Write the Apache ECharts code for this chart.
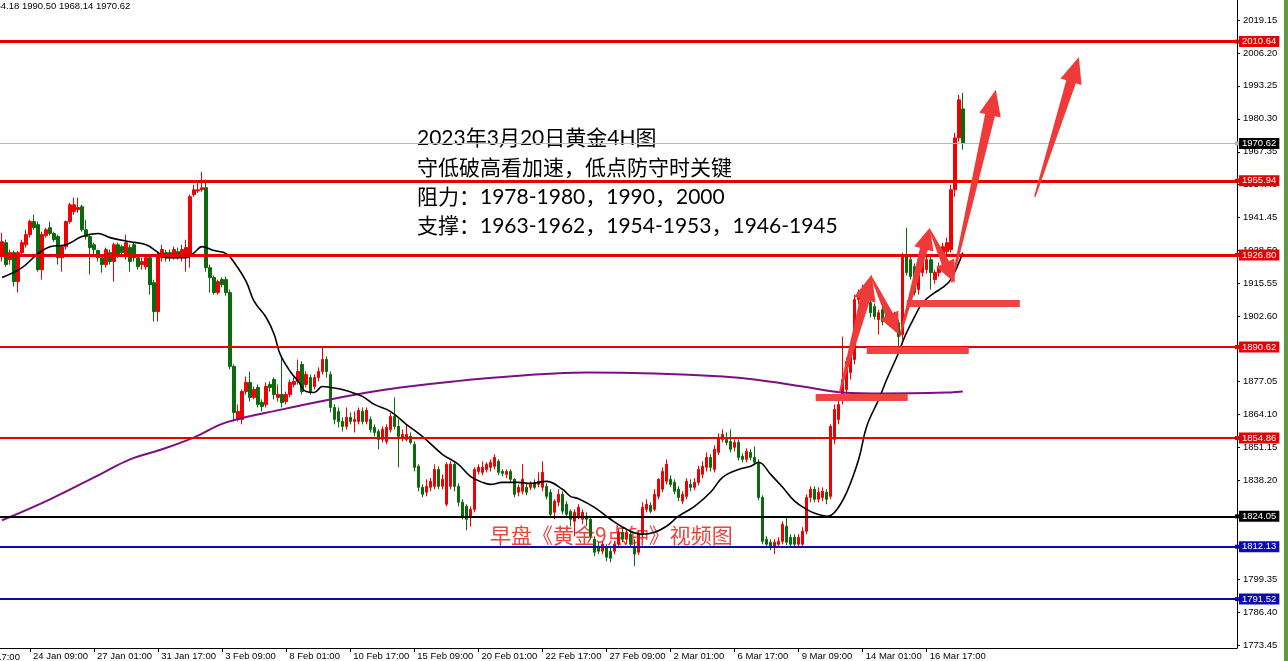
<!DOCTYPE html>
<html><head><meta charset="utf-8">
<script src="https://cdn.jsdelivr.net/npm/echarts@6/dist/echarts.min.js"></script>
<style>html,body{margin:0;padding:0;background:#fff;overflow:hidden}#c{width:1288px;height:661px}</style>
</head><body><div id="c"></div>
<script>
// ---- categories (4H bars, 6 per trading day) ----
const tradingDays = ['23 Jan','24 Jan','25 Jan','26 Jan','27 Jan','30 Jan','31 Jan','1 Feb','2 Feb','3 Feb','6 Feb','7 Feb','8 Feb','9 Feb','10 Feb','13 Feb','14 Feb','15 Feb','16 Feb','17 Feb','20 Feb','21 Feb','22 Feb','23 Feb','24 Feb','27 Feb','28 Feb','1 Mar','2 Mar','3 Mar','6 Mar','7 Mar','8 Mar','9 Mar','10 Mar','13 Mar','14 Mar','15 Mar','16 Mar','17 Mar','20 Mar'];
const sessionHours = ['01:00','05:00','09:00','13:00','17:00','21:00'];
const firstBarOffset = 1;      // first visible bar: 23 Jan 05:00
const emptyBarsRight = 68;     // chart shift on the right

// ---- OHLC: [open, close, low, high] ----
const candles = [
[1926.9,1932.0,1924.2,1935.5],[1931.6,1923.0,1922.2,1932.8],[1924.95,1927.7,1923.0,1928.9],[1927.7,1916.3,1914.35,1928.5],[1916.3,1927.7,1912.0,1928.3],
[1927.7,1931.6,1926.5,1932.8],[1930.8,1934.8,1929.7,1936.7],[1934.8,1939.9,1933.6,1940.65],[1939.9,1937.5,1936.7,1942.6],[1938.7,1921.0,1920.2,1939.9],
[1921.0,1934.8,1917.1,1935.9],[1934.4,1936.7,1933.6,1937.5],[1937.5,1935.2,1934.4,1939.9],[1935.2,1932.8,1932.0,1935.9],[1934.0,1925.7,1923.0,1934.8],
[1925.7,1930.05,1920.2,1930.8],[1930.05,1939.9,1928.9,1940.3],[1939.9,1946.5,1939.1,1947.3],[1943.8,1946.5,1942.6,1949.3],[1944.6,1945.4,1943.4,1949.3],
[1945.75,1936.7,1935.9,1946.5],[1936.7,1934.0,1932.8,1940.65],[1934.0,1929.7,1919.1,1934.8],[1930.8,1928.9,1926.9,1931.6],[1928.5,1925.7,1924.2,1928.9],
[1925.7,1923.0,1919.85,1926.9],[1923.0,1928.9,1921.8,1929.7],[1927.7,1924.2,1923.0,1928.9],[1924.2,1930.8,1916.3,1931.6],[1930.8,1926.9,1925.7,1931.6],
[1930.05,1927.7,1926.1,1930.8],[1926.1,1931.6,1924.95,1934.8],[1929.7,1924.2,1920.2,1930.8],[1930.8,1925.7,1924.2,1931.6],[1925.7,1922.2,1921.0,1926.9],
[1923.0,1924.2,1921.0,1925.7],[1922.2,1925.7,1921.0,1926.9],[1925.7,1915.1,1911.2,1926.9],[1915.9,1904.5,1900.6,1917.1],[1904.5,1926.9,1900.6,1928.1],
[1925.7,1928.9,1924.2,1930.8],[1927.7,1925.7,1924.2,1928.9],[1927.7,1925.7,1924.2,1928.9],[1925.7,1928.9,1924.95,1930.05],[1928.1,1926.1,1924.95,1929.7],
[1926.1,1928.9,1924.2,1930.8],[1926.5,1929.7,1920.2,1932.8],[1926.9,1949.7,1921.8,1950.5],[1950.5,1952.4,1949.7,1954.4],[1952.0,1952.4,1951.2,1955.2],
[1952.4,1953.2,1951.6,1959.5],[1953.2,1921.8,1920.2,1956.35],[1921.8,1917.9,1912.0,1923.0],[1917.9,1912.0,1911.2,1918.7],[1912.0,1916.3,1911.2,1917.1],
[1917.1,1915.1,1914.0,1917.9],[1917.1,1912.0,1910.8,1918.3],[1912.0,1883.0,1881.8,1913.2],[1883.0,1864.9,1861.35,1883.75],[1862.15,1865.3,1861.35,1868.05],
[1862.15,1873.1,1860.2,1873.9],[1873.1,1876.7,1871.95,1879.0],[1876.7,1870.8,1869.2,1881.0],[1870.8,1873.9,1870.0,1875.1],[1874.7,1868.05,1866.85,1875.9],
[1868.8,1867.25,1865.3,1870.0],[1868.05,1875.1,1866.85,1876.7],[1875.9,1874.7,1873.1,1877.1],[1877.85,1871.95,1870.0,1878.6],[1870.8,1871.95,1869.2,1875.9],
[1871.95,1868.8,1866.85,1886.5],[1869.2,1871.95,1868.05,1873.1],[1871.95,1876.7,1870.8,1877.85],[1875.9,1877.1,1874.7,1878.6],[1877.1,1881.0,1875.9,1885.7],
[1883.75,1873.1,1871.95,1885.0],[1875.9,1879.8,1874.7,1881.0],[1878.6,1873.1,1871.95,1879.8],[1875.1,1878.6,1873.9,1879.8],[1878.6,1881.0,1877.1,1882.6],
[1881.0,1885.7,1879.8,1890.4],[1885.7,1881.0,1878.6,1886.9],[1879.8,1866.85,1864.9,1881.0],[1866.85,1862.15,1860.2,1868.05],[1865.3,1861.35,1859.0,1866.85],
[1861.35,1859.4,1857.4,1862.95],[1859.4,1862.95,1858.2,1866.85],[1862.95,1861.35,1860.2,1864.9],[1861.35,1862.15,1857.0,1865.3],[1861.35,1865.7,1860.2,1866.85],
[1865.3,1861.35,1860.2,1866.85],[1861.35,1865.7,1860.2,1866.85],[1862.15,1858.2,1857.0,1863.3],[1859.0,1857.0,1855.5,1860.2],[1857.4,1854.3,1850.4,1858.2],
[1854.3,1858.2,1853.1,1859.4],[1853.5,1859.0,1852.35,1860.2],[1858.2,1863.3,1857.0,1864.9],[1863.3,1859.4,1858.2,1870.8],[1859.4,1855.5,1843.3,1862.15],
[1855.1,1856.25,1853.5,1858.2],[1854.3,1856.25,1853.5,1860.2],[1855.5,1853.1,1852.35,1857.0],[1852.35,1843.3,1841.7,1853.5],[1843.7,1835.45,1833.9,1844.5],
[1835.45,1832.7,1831.5,1836.6],[1833.5,1835.85,1831.9,1838.6],[1835.45,1837.8,1833.9,1839.1],[1835.85,1842.5,1834.7,1844.5],[1842.5,1835.85,1834.7,1843.7],
[1835.85,1838.6,1834.7,1840.55],[1828.8,1844.5,1828.0,1845.3],[1835.85,1844.5,1834.7,1845.65],[1844.5,1835.85,1833.9,1845.3],[1835.85,1829.6,1828.0,1837.0],
[1829.6,1824.1,1822.9,1830.75],[1828.0,1822.9,1818.6,1828.8],[1823.7,1826.8,1820.15,1828.0],[1826.8,1842.5,1825.65,1843.3],[1841.7,1843.3,1840.55,1844.5],
[1841.35,1843.3,1840.2,1845.65],[1842.5,1844.5,1841.35,1845.3],[1843.3,1845.3,1841.7,1846.45],[1843.7,1847.2,1842.5,1848.45],[1845.65,1841.35,1840.2,1846.45],
[1841.7,1840.95,1839.8,1842.5],[1840.55,1841.7,1839.05,1842.5],[1841.7,1838.6,1837.4,1842.5],[1838.6,1832.7,1831.5,1839.05],[1833.5,1835.45,1831.9,1836.6],
[1833.9,1838.6,1832.7,1844.5],[1835.45,1833.5,1832.3,1837.0],[1835.45,1836.6,1834.3,1837.8],[1837.0,1835.45,1834.7,1838.6],[1836.6,1837.8,1835.45,1841.35],
[1835.45,1841.35,1833.9,1845.65],[1835.85,1831.9,1830.75,1837.0],[1833.5,1824.85,1823.7,1834.7],[1825.65,1830.0,1822.9,1830.75],[1829.6,1832.7,1828.0,1834.7],
[1832.7,1826.05,1824.85,1833.9],[1828.8,1824.85,1823.7,1830.0],[1826.05,1822.9,1820.15,1826.8],[1822.1,1825.65,1816.2,1826.8],[1824.1,1827.6,1822.9,1828.8],
[1822.9,1825.65,1820.95,1826.8],[1824.1,1822.9,1820.15,1825.65],[1822.9,1816.2,1815.05,1824.1],[1815.05,1809.95,1808.4,1816.2],[1812.3,1810.35,1809.2,1813.9],
[1810.35,1813.1,1809.2,1814.25],[1811.9,1808.0,1806.4,1813.1],[1810.35,1807.6,1806.0,1811.9],[1810.35,1813.1,1809.2,1814.25],[1813.1,1817.8,1811.9,1819.0],
[1817.8,1815.05,1813.9,1819.8],[1815.05,1817.8,1813.1,1819.0],[1817.0,1813.1,1811.9,1818.2],[1812.3,1809.2,1804.5,1815.05],[1809.95,1817.0,1808.8,1818.2],
[1817.0,1827.6,1815.8,1829.6],[1826.8,1828.8,1825.65,1830.75],[1828.4,1826.05,1825.25,1829.6],[1826.8,1832.7,1826.05,1834.7],[1831.9,1838.6,1830.75,1839.05],
[1834.7,1841.7,1833.5,1843.3],[1837.8,1844.5,1836.6,1846.45],[1838.6,1836.6,1835.45,1840.2],[1837.4,1833.9,1832.7,1838.6],[1834.7,1831.5,1830.0,1835.85],
[1830.0,1832.7,1828.8,1833.9],[1831.9,1837.8,1830.75,1839.05],[1836.6,1835.45,1833.9,1838.6],[1835.45,1837.4,1834.3,1839.05],[1837.4,1842.5,1836.2,1843.9],
[1840.55,1843.7,1839.05,1845.65],[1843.3,1847.2,1841.7,1849.2],[1847.2,1843.3,1841.7,1848.45],[1842.5,1850.4,1841.35,1851.95],[1849.2,1855.1,1848.1,1856.65],
[1854.3,1856.25,1853.1,1858.2],[1854.3,1853.1,1851.95,1857.0],[1853.5,1850.4,1849.2,1858.2],[1851.2,1853.1,1849.6,1854.3],[1853.1,1847.2,1846.05,1854.3],
[1847.6,1846.45,1845.3,1848.8],[1846.45,1849.6,1845.3,1850.8],[1849.2,1847.2,1846.05,1850.4],[1847.2,1845.3,1844.1,1851.55],[1845.3,1831.5,1830.35,1846.45],
[1831.5,1814.25,1813.1,1832.3],[1815.05,1813.1,1811.9,1816.2],[1813.9,1811.9,1810.75,1815.05],[1812.3,1813.9,1809.2,1815.05],[1813.1,1814.25,1811.9,1815.8],
[1814.25,1820.95,1813.1,1822.1],[1820.15,1813.9,1812.75,1823.7],[1815.8,1813.1,1811.9,1817.0],[1815.8,1813.1,1811.9,1817.0],[1813.1,1815.8,1811.9,1817.0],
[1813.1,1818.2,1811.9,1819.8],[1818.2,1831.5,1817.0,1832.7],[1831.5,1834.7,1829.6,1835.85],[1834.7,1830.75,1829.6,1835.85],[1830.75,1833.5,1829.6,1835.45],
[1831.5,1833.9,1830.0,1835.45],[1833.5,1830.75,1828.8,1834.7],[1831.9,1859.4,1830.75,1860.2],[1854.3,1866.1,1852.35,1868.05],[1862.15,1868.05,1860.2,1870.0],
[1871.95,1877.85,1868.05,1894.7],[1873.9,1884.9,1871.95,1886.5],[1880.6,1890.8,1877.85,1892.4],[1885.7,1909.25,1883.75,1911.2],[1909.25,1912.0,1907.3,1913.2],
[1912.0,1909.25,1906.1,1915.1],[1906.5,1912.0,1905.3,1913.2],[1908.1,1904.1,1902.2,1910.0],[1906.5,1902.6,1901.4,1907.7],[1901.4,1904.1,1895.5,1905.3],
[1905.3,1900.6,1899.05,1906.9],[1901.4,1904.5,1899.8,1906.1],[1903.4,1901.4,1899.4,1904.5],[1903.4,1898.65,1897.5,1904.5],[1900.2,1894.7,1890.8,1901.4],
[1895.5,1926.1,1893.55,1927.7],[1926.1,1919.85,1918.7,1937.5],[1924.95,1918.3,1917.1,1926.9],[1922.2,1912.0,1910.8,1923.4],[1913.2,1919.85,1911.2,1921.0],
[1919.85,1926.1,1918.3,1927.7],[1921.0,1924.95,1919.5,1926.9],[1924.95,1919.85,1913.2,1926.9],[1917.1,1919.85,1915.5,1921.0],[1919.85,1922.2,1918.3,1923.8],
[1926.1,1930.05,1924.2,1931.6],[1928.1,1931.6,1926.5,1933.6],[1928.9,1952.4,1927.7,1954.4],[1952.4,1972.8,1949.7,1974.8],[1972.8,1987.75,1971.3,1989.7],
[1984.18,1970.62,1968.14,1990.50]
];

// ---- moving averages: [barIndex, price] ----
const maFast = [[0,1917.9],[5,1921.8],[9,1927.3],[12,1930.05],[16,1930.8],[20,1934.0],[24,1935.2],[27,1933.6],[32,1932.0],[36,1930.8],[39,1927.7],[41,1925.7],[46,1925.7],[48,1927.7],[50,1930.05],[53,1928.5],[56,1927.3],[58,1923.8],[61,1916.3],[63,1908.5],[66,1902.2],[68,1895.5],[69.5,1887.7],[72,1881.0],[74,1877.1],[76,1873.1],[78,1872.75],[80,1875.1],[82,1874.7],[85,1873.9],[90,1871.2],[93,1868.05],[97,1865.3],[101,1860.2],[105,1855.5],[110,1848.45],[114,1844.5],[117,1839.8],[120,1837.4],[122,1836.6],[125,1837.4],[129,1837.4],[132,1837.0],[136,1837.8],[140,1834.7],[142,1831.9],[144,1831.0],[148,1827.6],[152,1822.9],[156,1819.0],[160,1817.0],[163,1817.8],[166,1820.15],[169,1824.1],[173,1828.0],[177,1833.5],[180,1839.4],[184,1842.5],[187,1843.7],[189,1845.3],[192,1840.55],[195,1835.45],[198,1830.0],[201,1826.8],[203,1825.25],[206,1824.1],[208,1825.65],[211,1833.5],[214,1846.45],[216,1859.4],[219,1870.0],[221,1877.85],[224,1888.45],[225.5,1894.7],[228,1902.6],[230,1908.1],[233,1912.0],[235,1914.0],[237,1917.1],[240,1927.7]];
const maSlow = [[0,1822.5],[12,1830.75],[25,1840.95],[32,1846.45],[40,1850.4],[48,1855.1],[56,1861.0],[70,1866.1],[82,1870.0],[96,1873.9],[113,1877.1],[130,1879.4],[146,1880.6],[163,1880.2],[180,1879.0],[188,1877.85],[200,1875.1],[210,1872.75],[220,1872.35],[237,1872.75],[240,1873.1]];

// ---- horizontal levels ----
const levelPrices = [2010.64, 1970.62, 1955.94, 1926.80, 1890.62, 1854.86, 1824.05, 1812.13, 1791.52];
const levelKinds  = ['red3','gray','red3','red3','red2','red2','black','blue','blue'];

// ---- annotations (bar index, price) ----
const arrows = [[209.25,1872.75,217.25,1919.1],[217.25,1917.9,224,1895.5],[224.25,1894.7,231.75,1937.5],[231.75,1936.7,238,1915.9],[237.25,1915.9,248.25,1991.7],[258,1949.7,269,2004.6]];
const supportBars = [[203.25,226.25,1870.8],[216,241.5,1889.2],[226,254.25,1907.7]];

// ---- axis tick labels ----
const priceTicks = [1773.45,1786.40,1799.35,1838.20,1851.15,1864.10,1877.05,1902.60,1915.55,1928.50,1941.45,1954.40,1967.35,1980.30,1993.25,2006.20,2019.15];
const headerText = '1984.18 1990.50 1968.14 1970.62';
const noteLines = ['2023年3月20日黄金4H图','守低破高看加速，低点防守时关键','阻力：1978-1980，1990，2000','支撑：1963-1962，1954-1953，1946-1945'];
const watermark = '早盘《黄金9点钟》视频图';

// ---- build categories ----
const categories = [];
tradingDays.forEach(d => sessionHours.forEach(h => categories.push(d + ' ' + h)));
const cats = categories.slice(firstBarOffset, firstBarOffset + candles.length);
for (let k = 0; k < emptyBarsRight; k++) cats.push('');
const N = cats.length;

const styleOf = {
  red3: {color:'#e60000', width:3, bg:'#e60000'},
  red2: {color:'#e60000', width:2, bg:'#e60000'},
  gray: {color:'#b8b8b8', width:1, bg:'#000000'},
  black:{color:'#000000', width:2, bg:'#000000'},
  blue: {color:'#0a0ab4', width:2, bg:'#0a0ab4'}
};
const levelData = levelPrices.map((p,k) => {
  const s = styleOf[levelKinds[k]];
  return {yAxis: p, lineStyle:{color:s.color, width:s.width, type:'solid'}, label:{backgroundColor:s.bg}};
});

const FONT = 'Liberation Sans';
const NOTE_FONT = "Lato, 'Noto Sans CJK SC'";
const labelEvery = (idx, val) => val !== '' && (idx - 7) % 16 === 0;

const chart = echarts.init(document.getElementById('c'), null, {renderer:'canvas'});
chart.setOption({
  animation: false,
  backgroundColor: '#ffffff',
  grid: {left: 0, right: 51, top: 0, bottom: 12, containLabel: false},
  xAxis: [{
    type:'category', data: cats, boundaryGap: true,
    axisLine:{show:true, onZero:false, lineStyle:{color:'#000', width:1}},
    axisTick:{show:true, interval: labelEvery, alignWithLabel:true, length:4, lineStyle:{color:'#000'}},
    axisLabel:{show:true, interval: labelEvery, align:'left', margin:3, padding:[0,0,0,3], fontSize:9.5, fontFamily:FONT, color:'#000'},
    splitLine:{show:false}
  },{
    type:'value', min:-0.5, max:N-0.5, show:false,
    axisLine:{show:false, onZero:false}, axisTick:{show:false}, axisLabel:{show:false}, splitLine:{show:false}
  }],
  yAxis: [{
    type:'value', position:'right', min:1772.3, max:2027.0, scale:true,
    axisLine:{show:true, onZero:false, lineStyle:{color:'#000', width:1}},
    axisTick:{show:true, length:3, customValues: priceTicks, lineStyle:{color:'#000'}},
    axisLabel:{show:true, customValues: priceTicks, fontSize:9.5, fontFamily:FONT, color:'#000', margin:6,
      formatter: v => Number(v).toFixed(2)},
    splitLine:{show:false}
  }],
  series: [
    {
      type:'candlestick', data: candles, barWidth:3, z:2,
      itemStyle:{color:'#f00000', color0:'#0b6a0b', borderColor:'#f00000', borderColor0:'#0b6a0b', borderWidth:1}
    },
    {
      type:'line', xAxisIndex:1, data: maSlow, smooth:0.4, symbol:'none', z:3,
      lineStyle:{color:'#7d0f82', width:2}
    },
    {
      type:'line', xAxisIndex:1, data: maFast, smooth:0.4, symbol:'none', z:3,
      lineStyle:{color:'#000', width:1.6}
    },
    {
      type:'line', data: [], z:4,
      markLine:{
        silent:true, symbol:['none','rect'], symbolSize:[4,4], animation:false,
        label:{show:true, position:'end', distance:2, color:'#fff', fontSize:9.5, fontFamily:FONT, padding:[1,3,0,3],
          formatter: p => Number(p.value).toFixed(2)},
        data: levelData
      }
    },
    {
      type:'custom', xAxisIndex:1, z:6, data: supportBars,
      renderItem: (params, api) => {
        const a = api.coord([api.value(0), api.value(2)]);
        const b = api.coord([api.value(1), api.value(2)]);
        return {type:'rect', shape:{x:a[0], y:a[1]-3.5, width:b[0]-a[0], height:7}, style:{fill:'#f04444'}};
      }
    },
    {
      type:'custom', xAxisIndex:1, z:7, data: arrows,
      renderItem: (params, api) => {
        const t = api.coord([api.value(0), api.value(1)]);
        const p = api.coord([api.value(2), api.value(3)]);
        const dx = p[0]-t[0], dy = p[1]-t[1], len = Math.hypot(dx,dy);
        const ux = dx/len, uy = dy/len, nx = -uy, ny = ux;
        const big = len > 120;
        const L = big ? 26 : 22, hw = big ? 11 : 10, sw = big ? 5 : 4, tw = 0.8;
        const bx = p[0]-ux*L, by = p[1]-uy*L;
        const pts = [[t[0]+nx*tw, t[1]+ny*tw],[bx+nx*sw, by+ny*sw],[bx+nx*hw, by+ny*hw],[p[0],p[1]],
                     [bx-nx*hw, by-ny*hw],[bx-nx*sw, by-ny*sw],[t[0]-nx*tw, t[1]-ny*tw]];
        return {type:'polygon', shape:{points:pts}, style:{fill:'#f03a3a'}};
      }
    }
  ],
  graphic: [
    {type:'text', left:-15, top:1, z:10, style:{text: headerText, fontSize:9.5, fontFamily:FONT, fill:'#000'}},
    {type:'text', left:-35, top:652, z:10, style:{text:'19 Jan 17:00', fontSize:9.5, fontFamily:FONT, fill:'#000'}},
    {type:'group', left:417, top:128, z:10, children: noteLines.map((t,k) => ({
      type:'text', x:0, y:k*29.3, style:{text:t, fontSize:21, fontFamily:NOTE_FONT, fill:'#000'}
    }))},
    {type:'text', left:490, top:525, z:1, style:{text: watermark, fontSize:21, fontFamily:'Noto Sans CJK SC', fill:'rgba(232,52,46,0.92)'}},
    {type:'rect', right:0, top:0, z:10, shape:{width:4, height:661}, style:{fill:'#5f9a3c'}}
  ]
});
</script>
</body></html>
